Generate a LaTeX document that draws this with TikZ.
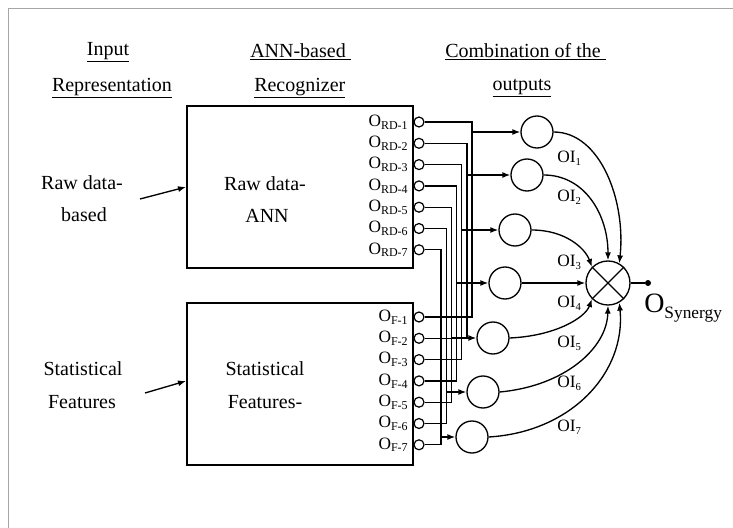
\documentclass[tikz,border=0pt]{standalone}
\usepackage{fontspec}
\setmainfont{Liberation Serif}
\usetikzlibrary{arrows.meta}
\newcommand{\Osub}[1]{O\raisebox{-0.35ex}{\fontsize{9}{9}\selectfont #1}}
\newcommand{\OIsub}[1]{OI\raisebox{-0.35ex}{\fontsize{8}{8}\selectfont #1}}
\begin{document}
\begin{tikzpicture}[x=0.75pt,y=-0.75pt,
  head/.style={inner sep=0pt, font=\fontsize{15}{16}\selectfont},
  lab/.style={inner sep=0pt, font=\fontsize{15}{16}\selectfont},
  blk/.style={draw, line width=1.7pt, inner sep=0pt, anchor=north west},
  portc/.style={circle, draw, line width=0.9pt, minimum size=7.5pt, inner sep=0pt},
  neuron/.style={circle, draw, line width=1pt, minimum size=24pt, inner sep=0pt},
  comb/.style={circle, draw, line width=1pt, minimum size=33pt, inner sep=0pt},
  wire/.style={line width=1pt},
  arr/.style={wire, -{Latex[length=6pt,width=4.5pt]}},
  olab/.style={inner sep=0pt, anchor=east, font=\fontsize{13}{14}\selectfont},
  oil/.style={inner sep=0pt, anchor=west, font=\fontsize{13}{14}\selectfont},
  frame/.style={draw=gray!70, line width=0.4pt}
]
\useasboundingbox (0,0) rectangle (733,528);
% frame
\coordinate (ftl) at (8,8);
\coordinate (ftr) at (733,8);
\coordinate (fbl) at (8,528);
\draw[frame] (fbl) -- (ftl) -- (ftr);

% headings
\node[head] (h1a) at (108,52) {\underline{Input}};
\node[head] (h1b) at (112,88) {\underline{Representation}};
\node[head, anchor=west] (h2a) at (250,52) {\underline{ANN-based\ }};
\node[head, anchor=west] (h2b) at (254,88) {\underline{Recognizer}};
\node[head, anchor=west] (h3a) at (445,52) {\underline{Combination of the\ }};
\node[head] (h3b) at (522,88) {\underline{outputs}};

% boxes
\node[blk, minimum width=169.5pt, minimum height=121.5pt] (rawbox) at (186,105) {};
\node[blk, minimum width=169.5pt, minimum height=121.5pt] (statbox) at (186,302) {};

\node[lab] (rt1) at (265,184) {Raw data-};
\node[lab] (rt2) at (267,216) {ANN};
\node[lab] (st1) at (265,369) {Statistical};
\node[lab] (st2) at (265,402) {Features-};

% left inputs
\node[lab] (l1) at (82,183) {Raw data-};
\node[lab] (l2) at (84,215) {based};
\node[lab] (l3) at (83,369) {Statistical};
\node[lab] (l4) at (82,402) {Features};
\coordinate (a1s) at (140,199);
\coordinate (a2s) at (145,393);
\draw[arr] (a1s) -- (rawbox.west |- 0,187);
\draw[arr] (a2s) -- (statbox.west |- 0,381);

% ports
\foreach \k in {1,...,7} {
  \pgfmathsetmacro\yr{122+21.3*(\k-1)}
  \pgfmathsetmacro\yf{317+21.3*(\k-1)}
  \node[portc] (r\k) at (419,\yr) {};
  \node[portc] (f\k) at (419,\yf) {};
  \node[olab] at (408,\yr) {\Osub{RD-\k}};
  \node[olab] at (408,\yf) {\Osub{F-\k}};
}

% neurons and wiring
\foreach \k/\nx/\ny in {1/537/132, 2/527/175, 3/515/230, 4/505/283, 5/493/338, 6/483/392, 7/472/437} {
  \node[neuron] (n\k) at (\nx,\ny) {};
  \pgfmathsetmacro\vx{472-5.15*(\k-1)}
  \coordinate (b\k) at (\vx,\ny);
  \draw[wire] (r\k.east) -| (b\k) |- (f\k.east);
  \draw[arr] (b\k) -- (n\k.west);
}

% combiner
\node[comb] (cmb) at (608,283) {};
\draw[line width=1pt] (cmb.45) -- (cmb.225) (cmb.135) -- (cmb.315);

\draw[arr] (n1.east) .. controls (600,132) and (626,200) .. (cmb.60);
\draw[arr] (n2.east) .. controls (585,175) and (608,215) .. (cmb.90);
\draw[arr] (n3.east) .. controls (565,230) and (585,248) .. (cmb.135);
\draw[arr] (n4.east) -- (cmb.west);
\draw[arr] (n5.east) .. controls (555,336) and (585,318) .. (cmb.225);
\draw[arr] (n6.east) .. controls (565,386) and (607,348) .. (cmb.270);
\draw[arr] (n7.east) .. controls (572,432) and (626,372) .. (cmb.300);

% OI labels
\node[oil] at (557,158) {\OIsub{1}};
\node[oil] at (557,197) {\OIsub{2}};
\node[oil] at (557,262) {\OIsub{3}};
\node[oil] at (557,303) {\OIsub{4}};
\node[oil] at (557,343) {\OIsub{5}};
\node[oil] at (557,383) {\OIsub{6}};
\node[oil] at (557,427) {\OIsub{7}};

% output
\node[circle, fill, inner sep=0pt, minimum size=4.5pt] (dot) at (648,283) {};
\draw[wire] (cmb.east) -- (dot);
\node[inner sep=0pt, anchor=north west, font=\fontsize{21}{22}\selectfont] (osyn) at (644,294) {O\raisebox{-0.45ex}{\fontsize{13}{13}\selectfont Synergy}};
\end{tikzpicture}
\end{document}
